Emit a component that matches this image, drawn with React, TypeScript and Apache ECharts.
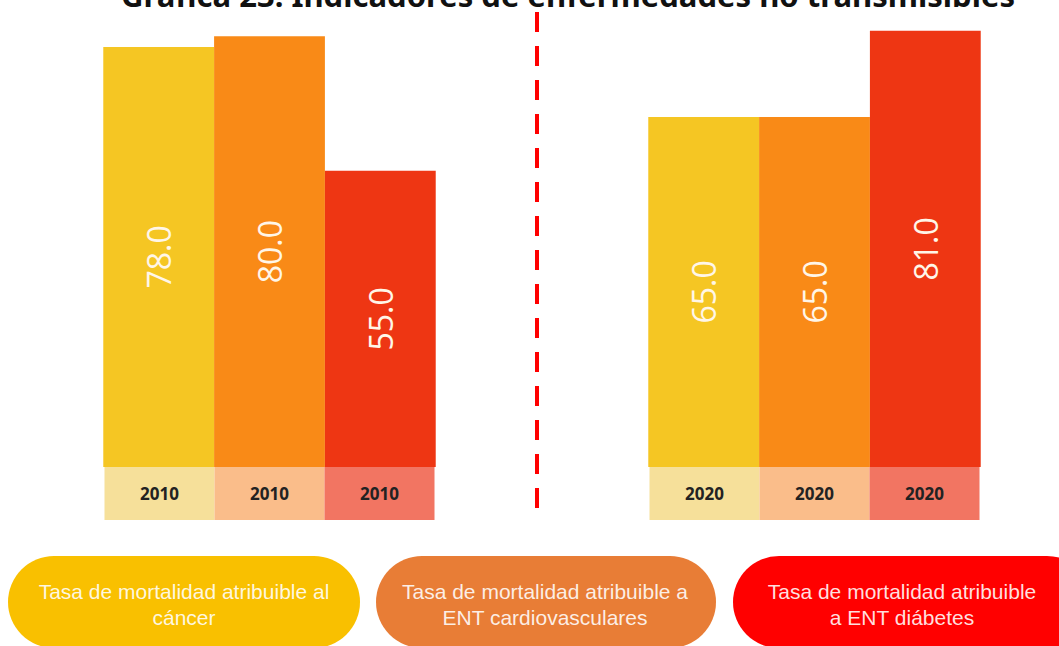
import React, { useEffect, useRef } from "react";
import * as echarts from "echarts";

const years = ["2010", "2020"];
const seriesNames = [
  "Tasa de mortalidad atribuible al cáncer",
  "Tasa de mortalidad atribuible a ENT cardiovasculares",
  "Tasa de mortalidad atribuible a ENT diábetes",
];
const cancer = [78.0, 65.0];
const cardio = [80.0, 65.0];
const diabetes = [55.0, 81.0];
const legendLines = [
  "Tasa de mortalidad atribuible al\ncáncer",
  "Tasa de mortalidad atribuible a\nENT cardiovasculares",
  "Tasa de mortalidad atribuible\na ENT diábetes",
];
const title = "Gráfica 23: Indicadores de enfermedades no transmisibles";

const barColors = ["#F5C623", "#F98A17", "#EE3613"];
const boxColors = ["#F6E09A", "#FABD8A", "#F27562"];
const pillColors = ["#F9C000", "#E87D36", "#FF0000"];

// chart canvas is shifted 3px left of the page, so page x = chart x - 3
const OFF = 3;

export default function App() {
  const ref = useRef<HTMLDivElement>(null);
  useEffect(() => {
    if (!ref.current) return;
    const chart = echarts.init(ref.current, null, { renderer: "svg" });
    const valueLabel = {
      show: true,
      position: "inside",
      rotate: 90,
      color: "#FFF6E8",
      fontSize: 32,
      fontFamily: "Open Sans",
      formatter: (p: any) => Number(p.value).toFixed(1),
    };
    const seriesData = [cancer, cardio, diabetes];
    const pills = [
      { x: 8, w: 352, cx: 184 },
      { x: 376, w: 340, cx: 545 },
      { x: 733, w: 360, cx: 902 },
    ];
    const boxStyle = (i: number) => ({
      width: 110,
      height: 53,
      lineHeight: 53,
      align: "center",
      backgroundColor: boxColors[i],
      color: "#222",
      fontSize: 17,
      fontWeight: "bold",
      fontFamily: "Noto Sans",
    });
    chart.setOption({
      animation: false,
      backgroundColor: "#FFFFFF",
      grid: { left: 0, right: 0, top: 20, bottom: 179, containLabel: false },
      xAxis: {
        type: "category",
        data: years,
        axisLine: { show: false },
        axisTick: { show: false },
        axisLabel: {
          margin: 0,
          interval: 0,
          formatter: (v: string) => `{a|${v}}{b|${v}}{c|${v}}`,
          rich: { a: boxStyle(0), b: boxStyle(1), c: boxStyle(2) },
        },
      },
      yAxis: {
        type: "value",
        min: 0,
        max: 83,
        show: false,
        splitLine: { show: false },
      },
      series: seriesData.map((d, i) => ({
        name: seriesNames[i],
        type: "bar",
        data: d,
        barGap: "0%",
        barCategoryGap: "39%",
        itemStyle: { color: barColors[i] },
        label: valueLabel,
      })),
      graphic: [
        {
          type: "text",
          x: 568 + OFF,
          y: 10,
          style: {
            text: title,
            textAlign: "center",
            textVerticalAlign: "bottom",
            fontSize: 31,
            fontWeight: "bold",
            fontFamily: "Noto Sans",
            fill: "#111",
          },
        },
        {
          type: "line",
          shape: { x1: 537 + OFF, y1: 12, x2: 537 + OFF, y2: 520 },
          style: { stroke: "#FF0000", lineWidth: 4, lineDash: [20, 14] },
        },
        ...pills.map((p, i) => ({
          type: "rect",
          shape: { x: p.x + OFF, y: 556, width: p.w, height: 92, r: 46 },
          style: { fill: pillColors[i] },
        })),
        ...pills.map((p, i) => ({
          type: "text",
          x: p.cx + OFF,
          y: 604,
          style: {
            text: legendLines[i],
            textAlign: "center",
            textVerticalAlign: "middle",
            fontSize: 21,
            lineHeight: 26,
            fontFamily: "Liberation Sans",
            fill: "rgba(255,255,255,0.88)",
          },
        })),
      ],
    });
    return () => chart.dispose();
  }, []);
  return (
    <div
      style={{
        position: "absolute",
        left: 0,
        top: 0,
        width: 1059,
        height: 646,
        overflow: "hidden",
        background: "#fff",
      }}
    >
      <div
        ref={ref}
        style={{ position: "absolute", left: -OFF, top: 0, width: 1090, height: 646 }}
      />
    </div>
  );
}
